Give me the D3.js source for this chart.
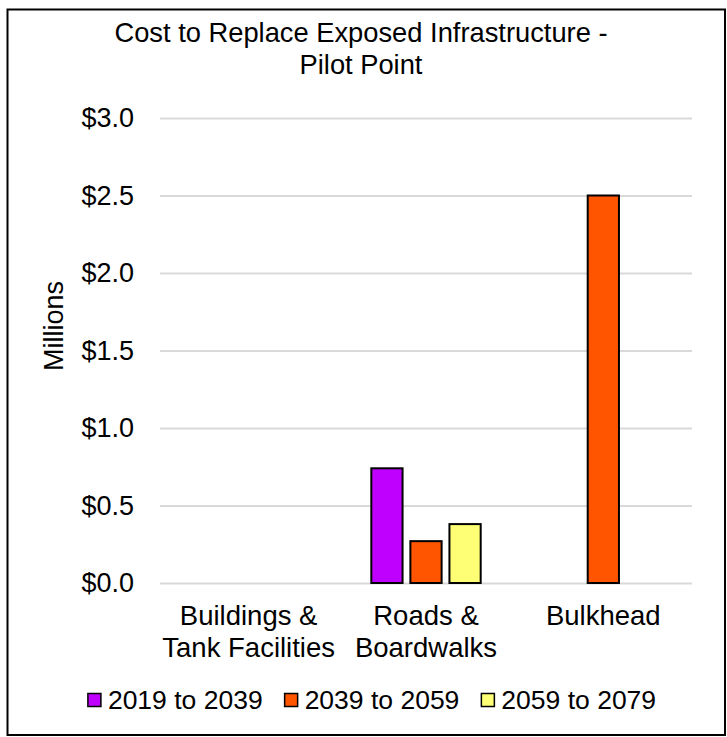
<!DOCTYPE html>
<html>
<head>
<meta charset="utf-8">
<script src="https://cdn.jsdelivr.net/npm/d3@7"></script>
<style>
  body { margin: 0; background: #fff; }
  text { font-family: "Liberation Sans", Arial, sans-serif; fill: #000; }
</style>
</head>
<body>
<div id="chart"></div>
<script>
  // Data
  const categories = [["Buildings &", "Tank Facilities"], ["Roads &", "Boardwalks"], ["Bulkhead"]]
  const categoryKeys = ["Buildings", "Roads", "Bulkhead"]
  const seriesNames = ["2019 to 2039", "2039 to 2059", "2059 to 2079"]
  const seriesColors = ["#c000ff", "#ff5500", "#ffff75"]
  const values2019 = [0, 0.74, 0]
  const values2039 = [0, 0.27, 2.5]
  const values2059 = [0, 0.38, 0]
  const yTicks = [0, 0.5, 1.0, 1.5, 2.0, 2.5, 3.0]

  const seriesValues = [values2019, values2039, values2059]

  // Dimensions
  let dimensions = {
    width: 727,
    height: 737,
    margin: { top: 118, right: 35, bottom: 154, left: 160 },
  }
  dimensions.boundedWidth = dimensions.width - dimensions.margin.left - dimensions.margin.right
  dimensions.boundedHeight = dimensions.height - dimensions.margin.top - dimensions.margin.bottom

  const svg = d3.select("#chart")
    .append("svg")
      .attr("width", dimensions.width)
      .attr("height", dimensions.height)

  // outer frame
  svg.append("rect")
    .attr("x", 7.5)
    .attr("y", 9.5)
    .attr("width", 717.5)
    .attr("height", 725.5)
    .attr("fill", "none")
    .attr("stroke", "#000")
    .attr("stroke-width", 2)

  const bounds = svg.append("g")
    .attr("transform", `translate(${dimensions.margin.left}, ${dimensions.margin.top})`)

  // Scales
  const yScale = d3.scaleLinear()
    .domain([0, 3])
    .range([dimensions.boundedHeight, 0])

  const x0Scale = d3.scaleBand()
    .domain(categoryKeys)
    .range([0, dimensions.boundedWidth])
    .paddingInner(0)

  const x1Scale = d3.scaleBand()
    .domain(seriesNames)
    .range([0, x0Scale.bandwidth()])
    .paddingInner(0.2)
    .paddingOuter(0.87)

  // Gridlines + y axis
  const yAxisGenerator = d3.axisLeft(yScale)
    .tickValues(yTicks)
    .tickSize(-dimensions.boundedWidth)
    .tickPadding(26)
    .tickFormat(d => "$" + d.toFixed(1))

  const yAxis = bounds.append("g").call(yAxisGenerator)
  yAxis.select(".domain").remove()
  yAxis.selectAll(".tick line")
    .attr("stroke", "#d9d9d9")
    .attr("stroke-width", 2)
  yAxis.selectAll(".tick text")
    .attr("font-size", 27)
    .attr("font-family", "Liberation Sans, Arial, sans-serif")
    .attr("fill", "#000")

  // Bars
  const barData = []
  categoryKeys.forEach((c, i) => {
    seriesNames.forEach((s, j) => {
      barData.push({ category: c, series: s, color: seriesColors[j], value: seriesValues[j][i] })
    })
  })

  bounds.selectAll("rect.bar")
    .data(barData.filter(d => d.value > 0))
    .enter()
    .append("rect")
      .attr("class", "bar")
      .attr("x", d => x0Scale(d.category) + x1Scale(d.series))
      .attr("width", x1Scale.bandwidth())
      .attr("y", d => yScale(d.value))
      .attr("height", d => yScale(0) - yScale(d.value))
      .attr("fill", d => d.color)
      .attr("stroke", "#000")
      .attr("stroke-width", 2)

  // Category labels
  const catLabels = bounds.append("g")
  categoryKeys.forEach((c, i) => {
    const t = catLabels.append("text")
      .attr("x", x0Scale(c) + x0Scale.bandwidth() / 2)
      .attr("y", dimensions.boundedHeight + 42)
      .attr("text-anchor", "middle")
      .attr("font-size", 27.5)
    categories[i].forEach((line, k) => {
      t.append("tspan")
        .attr("x", x0Scale(c) + x0Scale.bandwidth() / 2)
        .attr("dy", k === 0 ? 0 : 31.7)
        .text(line)
    })
  })

  // Y axis label
  svg.append("text")
    .attr("transform", "translate(63, 326) rotate(-90)")
    .attr("text-anchor", "middle")
    .attr("font-size", 27)
    .text("Millions")

  // Title
  const title = svg.append("text")
    .attr("x", 361)
    .attr("y", 41.5)
    .attr("text-anchor", "middle")
    .attr("font-size", 27.3)
  title.append("tspan").attr("x", 361).text("Cost to Replace Exposed Infrastructure -")
  title.append("tspan").attr("x", 361).attr("dy", 32.8).text("Pilot Point")

  // Legend
  const legend = svg.append("g")
  const boxSize = 13
  const boxGap = 7
  const itemGap = 22
  let cursor = 0
  seriesNames.forEach((name, i) => {
    const g = legend.append("g")
    g.append("rect")
      .attr("x", 0)
      .attr("y", -boxSize / 2)
      .attr("width", boxSize)
      .attr("height", boxSize)
      .attr("fill", seriesColors[i])
      .attr("stroke", "#000")
      .attr("stroke-width", 1.5)
    const t = g.append("text")
      .attr("x", boxSize + boxGap)
      .attr("y", 0)
      .attr("dy", "0.35em")
      .attr("font-size", 26.5)
      .text(name)
    const w = boxSize + boxGap + t.node().getComputedTextLength()
    g.attr("transform", `translate(${cursor}, 0)`)
    cursor += w + itemGap
  })
  const legendWidth = cursor - itemGap
  legend.attr("transform", `translate(${372 - legendWidth / 2}, 700)`)
</script>
</body>
</html>
